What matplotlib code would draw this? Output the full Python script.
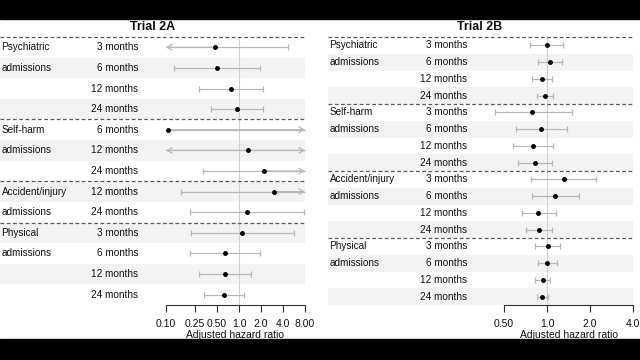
import matplotlib
matplotlib.use("Agg")
import matplotlib.pyplot as plt
import matplotlib.transforms as mtransforms
from matplotlib.patches import Rectangle
from matplotlib.lines import Line2D

plt.rcParams['font.family'] = ['Liberation Sans', 'DejaVu Sans']

# ---------------- data ----------------
a_groups = ["Psychiatric admissions", "Self-harm admissions", "Accident/injury admissions", "Physical admissions"]
a_sizes = [4, 3, 2, 4]
a_labels = ["3 months", "6 months", "12 months", "24 months",
            "6 months", "12 months", "24 months",
            "12 months", "24 months",
            "3 months", "6 months", "12 months", "24 months"]
a_hr = [0.47, 0.50, 0.78, 0.94, 0.107, 1.33, 2.2, 3.0, 1.28, 1.1, 0.64, 0.65, 0.62]
a_lo = [0.05, 0.13, 0.28, 0.41, 0.107, 0.05, 0.32, 0.16, 0.21, 0.22, 0.21, 0.28, 0.33]
a_hi = [4.7, 1.94, 2.13, 2.1, 20, 20, 20, 20, 7.8, 5.66, 1.94, 1.46, 1.17]
a_ticks = [0.10, 0.25, 0.50, 1.0, 2.0, 4.0, 8.00]
a_ticklabels = ["0.10", "0.25", "0.50", "1.0", "2.0", "4.0", "8.00"]

b_groups = ["Psychiatric admissions", "Self-harm admissions", "Accident/injury admissions", "Physical admissions"]
b_sizes = [4, 4, 4, 4]
b_labels = ["3 months", "6 months", "12 months", "24 months"] * 4
b_hr = [1.0, 1.05, 0.93, 0.97, 0.79, 0.91, 0.80, 0.83, 1.31, 1.14, 0.87, 0.88, 1.02, 1.0, 0.94, 0.92]
b_lo = [0.76, 0.87, 0.79, 0.85, 0.43, 0.61, 0.58, 0.63, 0.77, 0.78, 0.67, 0.71, 0.83, 0.87, 0.83, 0.85]
b_hi = [1.29, 1.28, 1.09, 1.11, 1.49, 1.37, 1.11, 1.09, 2.21, 1.67, 1.15, 1.09, 1.23, 1.17, 1.05, 1.02]
b_ticks = [0.50, 1.0, 2.0, 4.0]
b_ticklabels = ["0.50", "1.0", "2.0", "4.0"]

W, H = 640, 360
fig = plt.figure(figsize=(6.4, 3.6), dpi=100)
fig.patch.set_facecolor("white")
# black letterbox bars
fig.patches.append(Rectangle((0, 1 - 19 / H), 1, 19 / H, transform=fig.transFigure, color="black", zorder=-10))
fig.patches.append(Rectangle((0, 0), 1, 21 / H, transform=fig.transFigure, color="black", zorder=-10))

CI_COL = "#b8b8b8"
SHADE = "#f3f3f3"
DASH = "#5a5a5a"
FS = 7.2


def panel(title, title_x, ax_l, ax_r, xlim, clip_lim, panel_l, panel_r, month_x,
          groups, sizes, labels, hr, lo, hi, ticks, ticklabels):
    top, bot = 37, 305
    ax = fig.add_axes([ax_l / W, 1 - bot / H, (ax_r - ax_l) / W, (bot - top) / H])
    n = len(hr)
    ax.set_xscale("log")
    ax.set_xlim(*xlim)
    ax.set_ylim(n - 0.5, -0.5)
    ax.patch.set_visible(False)
    for s in ["top", "left", "right"]:
        ax.spines[s].set_visible(False)
    ax.spines["bottom"].set_color("#333333")
    ax.spines["bottom"].set_linewidth(0.8)
    ax.set_yticks([])
    ax.set_xticks(ticks)
    ax.set_xticklabels(ticklabels)
    ax.minorticks_off()
    ax.tick_params(axis="x", direction="out", length=5, width=0.8, color="#333333",
                   labelsize=FS + 0.3, pad=5, labelcolor="#111111")
    ax.set_xlabel("Adjusted hazard ratio", fontsize=FS + 0.3, labelpad=0.5, color="#111111")

    tr = mtransforms.blended_transform_factory(fig.transFigure, ax.transData)
    # shading
    for i in range(n):
        if i % 2 == 1:
            ax.add_patch(Rectangle((panel_l / W, i - 0.5), (panel_r - panel_l) / W, 1,
                                   transform=tr, facecolor=SHADE, edgecolor="none",
                                   clip_on=False, zorder=0))
    # separators and group labels
    start = 0
    for g, sz in zip(groups, sizes):
        ax.add_line(Line2D([panel_l / W, panel_r / W], [start - 0.5, start - 0.5], transform=tr,
                           color=DASH, lw=0.9, ls=(0, (3, 2)), clip_on=False, zorder=3))
        w1, w2 = g.split(" ", 1)
        ax.text(panel_l / W + 1.5 / W, start, w1, transform=tr, ha="left", va="center", fontsize=FS, color="#111111")
        ax.text(panel_l / W + 1.5 / W, start + 1, w2, transform=tr, ha="left", va="center", fontsize=FS, color="#111111")
        start += sz
    for i, lab in enumerate(labels):
        ax.text(month_x / W, i, lab, transform=tr, ha="right", va="center", fontsize=FS, color="#111111")

    ax.axvline(1.0, color="#d0d0d0", lw=0.8, zorder=1)

    for i in range(n):
        l_trunc = lo[i] < clip_lim[0]
        h_trunc = hi[i] > clip_lim[1]
        l = max(lo[i], clip_lim[0])
        h = min(hi[i], clip_lim[1])
        ax.plot([l, h], [i, i], color=CI_COL, lw=0.9, zorder=2, solid_capstyle="butt", clip_on=False)
        if l_trunc:
            ax.annotate("", xy=(clip_lim[0], i), xytext=(hr[i], i), annotation_clip=False,
                        arrowprops=dict(arrowstyle="->,head_length=0.35,head_width=0.2",
                                        color=CI_COL, lw=0.9, shrinkA=0, shrinkB=0), zorder=2)
        elif lo[i] < hr[i]:
            ax.plot([l], [i], marker="|", ms=4, color=CI_COL, mew=0.9, zorder=2, clip_on=False)
        if h_trunc:
            ax.annotate("", xy=(clip_lim[1], i), xytext=(hr[i], i), annotation_clip=False,
                        arrowprops=dict(arrowstyle="->,head_length=0.35,head_width=0.2",
                                        color=CI_COL, lw=0.9, shrinkA=0, shrinkB=0), zorder=2)
        else:
            ax.plot([h], [i], marker="|", ms=4, color=CI_COL, mew=0.9, zorder=2, clip_on=False)
        ax.plot([hr[i]], [i], marker="o", ms=2.5, color="black", zorder=4, clip_on=False)

    fig.text(title_x / W, 1 - 29.5 / H, title, ha="center", va="baseline",
             fontsize=9, fontweight="bold", color="#111111", zorder=10)
    return ax


panel("Trial 2A", 153, 166, 305, (0.1, 8.0), (0.1, 8.0), 0, 305, 138,
      a_groups, a_sizes, a_labels, a_hr, a_lo, a_hi, a_ticks, a_ticklabels)
panel("Trial 2B", 480, 504, 633, (0.5, 4.0), (0.01, 100.0), 328, 633, 467,
      b_groups, b_sizes, b_labels, b_hr, b_lo, b_hi, b_ticks, b_ticklabels)

fig.savefig("out.png", dpi=100, facecolor=fig.get_facecolor())
